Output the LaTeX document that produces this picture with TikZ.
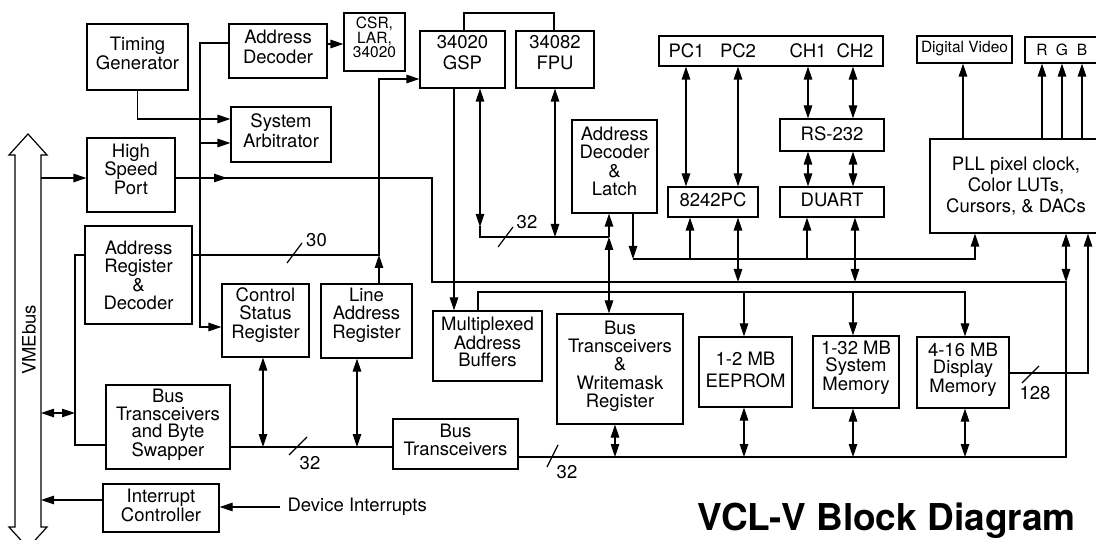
\documentclass[tikz,border=0pt]{standalone}
\usepackage{fontspec}
\setmainfont{TeX Gyre Heros}
\usetikzlibrary{arrows.meta}
\newcommand\bx[8]{%
  \node[box,minimum width=#4pt,minimum height=#5pt] (#1) at (#2,#3) {};
  \node[txt,font=\fontsize{18.5}{#7}\selectfont] (#1-t) at (#2,#6) {#8};}
\begin{document}
\begin{tikzpicture}[x=1pt,y=-1pt,line width=1.2pt,
  >={Triangle[length=13pt,width=8.5pt]},
  box/.style={draw,line width=1.2pt,inner sep=0pt},
  txt/.style={inner sep=0pt,align=center,font=\fontsize{18.5}{18.3}\selectfont},
  lbl/.style={inner sep=0pt,font=\fontsize{18.5}{18.5}\selectfont},
  sml/.style={inner sep=0pt,align=center,font=\fontsize{15.5}{14.5}\selectfont}]
\useasboundingbox (0,0) rectangle (1096,540);
\clip (0,0) rectangle (1096,540);
\fill[white] (0,0) rectangle (1096,540);

% VMEbus
\draw (15,155) -- (9,155) -- (28,134) -- (47,155) -- (41,155) -- (41,527) -- (47,527) -- (28,548) -- (9,527) -- (15,527) -- cycle;
\node[txt,rotate=90] (vmet) at (29,340) {VMEbus};
\coordinate (vme) at (41,340);

% boxes
\bx{tg}{137.5}{57}{101}{66}{53.5}{18.3}{Timing\\Generator}
\bx{ad}{278}{51}{98}{54}{47}{20.5}{Address\\Decoder}
\node[box,minimum width=61pt,minimum height=58pt] (csr) at (374.5,42) {};
\node[sml] (csr-t) at (374.5,37.5) {CSR,\\LAR,\\34020};
\bx{sa}{281}{134.5}{100}{55}{130.5}{20}{System\\Arbitrator}
\bx{hsp}{131}{175}{88}{74}{169}{18.5}{High\\Speed\\Port}
\bx{ar}{138.5}{275}{107}{98}{275.5}{18.3}{Address\\Register\\\&\\Decoder}
\bx{csreg}{265.5}{320.5}{87}{73}{315}{18.3}{Control\\Status\\Register}
\bx{lar}{366.5}{321}{91}{74}{315}{18.3}{Line\\Address\\Register}
\bx{btbs}{168}{427}{124}{84}{425}{17.5}{Bus\\Transceivers\\and Byte\\Swapper}
\bx{ic}{161}{508}{116}{48}{505}{16.7}{Interrupt\\Controller}
\bx{bt}{455.5}{444}{125}{50}{440}{17.5}{Bus\\Transceivers}
\bx{gsp}{462.5}{59.5}{85}{57}{52.5}{21.5}{34020\\GSP}
\bx{fpu}{555}{59.5}{78}{57}{52.5}{21.5}{34082\\FPU}
\bx{mab}{487.5}{346}{109}{70}{342}{16.7}{Multiplexed\\Address\\Buffers}
\bx{btw}{620}{369}{126}{110}{366}{18.3}{Bus\\Transceivers\\\&\\Writemask\\Register}
\bx{adl}{614.5}{166.5}{85}{93}{161.5}{18.3}{Address\\Decoder\\\&\\Latch}
\node[box,minimum width=224pt,minimum height=30pt] (pc) at (771,51) {};
\node[lbl] (pc1) at (686.5,50.5) {PC1};
\node[lbl] (pc2) at (738,50.5) {PC2};
\node[lbl] (ch1) at (808,50.5) {CH1};
\node[lbl] (ch2) at (855,50.5) {CH2};
\bx{kbc}{713}{202}{90}{30}{200}{18}{8242PC}
\bx{rs}{832}{135}{104}{32}{133.5}{18}{RS-232}
\bx{duart}{832}{202}{104}{30}{200}{18}{DUART}
\node[box,minimum width=95pt,minimum height=27pt] (dv) at (964.5,49.5) {};
\node[sml] (dv-t) at (964.5,49) {Digital Video};
\node[box,minimum width=80pt,minimum height=26pt] (rgb) at (1065,50) {};
\node[sml] (rgb-r) at (1042,50) {R};
\node[sml] (rgb-g) at (1062,50) {G};
\node[sml] (rgb-b) at (1082,50) {B};
\bx{pll}{1016}{186}{172}{94}{186}{21}{PLL pixel clock,\\Color LUTs,\\Cursors, \& DACs}
\bx{eep}{745.5}{372}{93}{70}{370}{22}{1-2 MB\\EEPROM}
\bx{sm}{856}{372}{86}{72}{368}{17}{1-32 MB\\System\\Memory}
\bx{dm}{963}{372.5}{92}{71}{370}{17}{4-16 MB\\Display\\Memory}

% timing / decoder / arbiter
\draw[->] (tg.south) |- (sa.west |- 0,119);
\draw[->] (ad.west |- 0,43) -- (200,43) -- (200,327) -- (csreg.west |- 0,327);
\draw[->] (200,143) -- (sa.west |- 0,143);
\draw[->] (ad.east |- 0,44) -- (csr.west |- 0,44);

% high speed port
\draw[->] (vme |- 0,178) -- (hsp.west |- 0,178);
\draw (hsp.east |- 0,178) -- (432,178) -- (432,282) -- (1066,282) -- (1066,457) -- (bt.east |- 0,457);
\draw[->] (hsp.east |- 0,178) -- (227,178);
\draw[<->] (1066,282) -- (pll.south -| 1066,0);

% 30-bit address
\draw[->] (ar.east |- 0,255) -- (379,255) -- (379,79) -- (gsp.west |- 0,79);
\draw[->] (lar.north -| 379,0) -- (379,255);
\draw (287,263) -- (302,243);
\node[lbl] (n30) at (316.5,240) {30};

% left bus
\draw (ar.west |- 0,255) -- (75,255) -- (75,445) -- (btbs.west |- 0,445);
\draw[<->] (vme |- 0,413) -- (75,413);
\draw (btbs.east |- 0,447) -- (bt.west |- 0,447);
\draw[<->] (csreg.south -| 263,0) -- (263,447);
\draw[<->] (lar.south -| 357,0) -- (357,447);
\draw (289,455) -- (307,437);
\node[lbl] (n32a) at (310,463) {32};

% interrupts
\draw[->] (ic.west |- 0,500) -- (vme |- 0,500);
\node[lbl,anchor=west] (di) at (287,507) {Device Interrupts};
\draw[->] ([xshift=-7pt]di.west) -- (ic.east |- di.west);

% GSP / FPU
\draw (gsp.north -| 464,0) -- (464,13) -- (554,13) -- (fpu.north -| 554,0);
\draw[->] (gsp.south -| 454,0) -- (mab.north -| 454,0);
\draw[<->] (gsp.south -| 480,0) -- (480,227);
\draw (480,226) -- (480,237) -- (609,237);
\draw[<->] (fpu.south -| 555,0) -- (555,237);
\draw (498,247) -- (513,227);
\node[lbl] (n32b) at (527,222) {32};
\draw[->] (609,237) -- (adl.south -| 609,0);
\draw[<->] (btw.north -| 609,0) -- (609,237);

% latch bus
\draw[->] (adl.south -| 633,0) -- (633,259);
\draw[->] (633,259) -- (975,259) -- (pll.south -| 975,0);
\draw[->] (690,259) -- (kbc.south -| 690,0);
\draw[->] (807,259) -- (duart.south -| 807,0);

% PC / CH
\draw[<->] (pc.south -| 686,0) -- (kbc.north -| 686,0);
\draw[<->] (pc.south -| 738,0) -- (kbc.north -| 738,0);
\draw[<->] (pc.south -| 808,0) -- (rs.north -| 808,0);
\draw[<->] (pc.south -| 853,0) -- (rs.north -| 853,0);
\draw[<->] (rs.south -| 808,0) -- (duart.north -| 808,0);
\draw[<->] (rs.south -| 853,0) -- (duart.north -| 853,0);
\draw[<->] (kbc.south -| 738,0) -- (738,282);
\draw[<->] (duart.south -| 855,0) -- (855,282);

% memory address bus
\draw[->] (mab.north -| 478,0) -- (478,292) -- (965,292) -- (dm.north -| 965,0);
\draw[->] (744,292) -- (eep.north -| 744,0);
\draw[->] (853,292) -- (sm.north -| 853,0);

% bottom data bus
\draw[<->] (eep.south -| 744,0) -- (744,457);
\draw[<->] (sm.south -| 853,0) -- (853,457);
\draw[<->] (dm.south -| 965,0) -- (965,457);
\draw[<->] (btw.south -| 615,0) -- (615,457);
\draw (547,467) -- (558,445);
\node[lbl] (n32c) at (567,472) {32};

% display memory to PLL
\draw[->] (dm.east |- 0,373) -- (1088,373) -- (pll.south -| 1088,0);
\draw (1022,383) -- (1039,366);
\node[lbl] (n128) at (1035,393) {128};

% PLL outputs
\draw[->] (pll.north -| 963,0) -- (dv.south -| 963,0);
\draw[->] (pll.north -| 1042,0) -- (rgb.south -| 1042,0);
\draw[->] (pll.north -| 1062,0) -- (rgb.south -| 1062,0);
\draw[->] (pll.north -| 1082,0) -- (rgb.south -| 1082,0);

% title
\node[inner sep=0pt,anchor=base west,font=\fontsize{37}{37}\selectfont\bfseries] (title) at (697,530) {VCL-V Block Diagram};
\end{tikzpicture}
\end{document}
